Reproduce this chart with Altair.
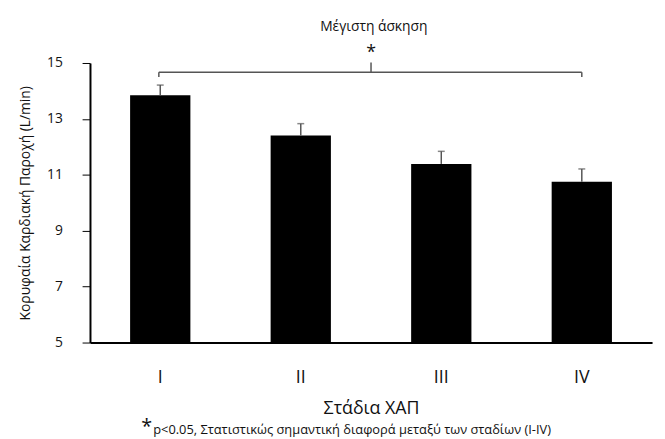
import altair as alt
import pandas as pd

# ---- data ----
stages = ["I", "II", "III", "IV"]
means = [13.85, 12.41, 11.39, 10.75]
upper = [14.21, 12.83, 11.84, 11.21]
base_value = 5

y_ticks = [5, 7, 9, 11, 13, 15]

# significance bracket (x in stage-position units 0..4, y in L/min)
bracket_x = [0.49, 3.5]
bracket_mid_x = 2.0
bracket_y = 14.67
bracket_drop_y = 14.5
bracket_top_y = 15.02
star_y = 15.35

title_text = "Μέγιστη άσκηση"
title_pos = [2.02, 16.3]
footnote_text = "p<0.05, Στατιστικώς σημαντική διαφορά μεταξύ των σταδίων (I-IV)"
footnote_pos = [0.45, 1.87]
footnote_star_pos = [0.365, 1.98]

FONT = "Open Sans"
W, H = 569, 283

df = pd.DataFrame({"stage": stages, "mean": means, "upper": upper,
                   "base": [base_value] * len(stages)})

yscale = alt.Scale(domain=[5, 15], zero=False, nice=False)
xscale_q = alt.Scale(domain=[0, 4], nice=False, zero=False)

y_axis = alt.Axis(title="Κορυφαία Καρδιακή Παροχή (L/min)",
                  values=y_ticks, grid=False, tickSize=8,
                  tickColor="black", domainColor="black", domainWidth=2,
                  labelFontSize=14, labelPadding=20, titleFontSize=14,
                  titleFontWeight="normal", titlePadding=14,
                  labelColor="#111", titleColor="#111",
                  labelFont=FONT, titleFont=FONT)

x_band = alt.X("stage:N", sort=stages,
               scale=alt.Scale(paddingInner=0.571, paddingOuter=0.2855),
               axis=alt.Axis(title="Στάδια ΧΑΠ", labelAngle=0, ticks=False,
                             labelFontSize=18, labelPadding=26,
                             titleFontSize=18, titleFontWeight="normal",
                             titlePadding=14, domainColor="black",
                             domainWidth=2, labelColor="#111", titleColor="#111",
                             labelFont=FONT, titleFont=FONT))


def Yq(field):
    return alt.Y(field, scale=yscale, axis=y_axis)


def Xq(field):
    return alt.X(field, scale=xscale_q, axis=None)


base = alt.Chart(df)
bars = base.mark_bar(color="black").encode(x=x_band, y=Yq("mean:Q"), y2="base:Q")
err = base.mark_rule(color="#555", strokeWidth=1.5).encode(
    x=alt.X("stage:N", sort=stages), y=Yq("mean:Q"), y2="upper:Q")
caps = base.mark_tick(color="#555", size=7, thickness=1.5).encode(
    x=alt.X("stage:N", sort=stages), y=Yq("upper:Q"))

bar_group = alt.layer(bars, err, caps)

# annotation layer with a positional (quantitative) x scale
hline_df = pd.DataFrame({"x": [bracket_x[0]], "x2": [bracket_x[1]], "y": [bracket_y]})
drops_df = pd.DataFrame({"x": bracket_x + [bracket_mid_x],
                         "y": [bracket_drop_y, bracket_drop_y, bracket_y],
                         "y2": [bracket_y, bracket_y, bracket_top_y]})

bracket_color = "#555"
hline = alt.Chart(hline_df).mark_rule(color=bracket_color, strokeWidth=1.5).encode(
    x=Xq("x:Q"), x2="x2:Q", y=Yq("y:Q"))
drops = alt.Chart(drops_df).mark_rule(color=bracket_color, strokeWidth=1.5).encode(
    x=Xq("x:Q"), y=Yq("y:Q"), y2="y2:Q")

star_df = pd.DataFrame({"x": [bracket_mid_x], "y": [star_y], "t": ["*"]})
star_text = alt.Chart(star_df).mark_text(
    font=FONT, fontSize=18, color="#111", baseline="middle", align="center").encode(
    x=Xq("x:Q"), y=Yq("y:Q"), text="t:N")
ttl_df = pd.DataFrame({"x": [title_pos[0]], "y": [title_pos[1]], "t": [title_text]})
title_mark = alt.Chart(ttl_df).mark_text(
    font=FONT, fontSize=14, color="#111", baseline="middle", align="center").encode(
    x=Xq("x:Q"), y=Yq("y:Q"), text="t:N")

foot_df = pd.DataFrame({"x": [footnote_pos[0]], "y": [footnote_pos[1]], "t": [footnote_text]})
foot = alt.Chart(foot_df).mark_text(
    font=FONT, fontSize=13, color="#111", baseline="middle", align="left").encode(
    x=Xq("x:Q"), y=Yq("y:Q"), text="t:N")
fstar_df = pd.DataFrame({"x": [footnote_star_pos[0]], "y": [footnote_star_pos[1]], "t": ["*"]})
fstar = alt.Chart(fstar_df).mark_text(
    font=FONT, fontSize=20, color="#111", baseline="middle", align="left").encode(
    x=Xq("x:Q"), y=Yq("y:Q"), text="t:N")

annot_group = alt.layer(hline, drops, star_text, title_mark, foot, fstar)

chart = alt.layer(bar_group, annot_group).resolve_scale(x="independent").properties(
    width=W, height=H,
    background="white",
    autosize=alt.AutoSizeParams(type="none"),
    padding={"left": 83, "top": 53, "right": 5, "bottom": 97},
).configure_view(strokeWidth=0, stroke="transparent").configure_axis(
    labelFont=FONT, titleFont=FONT
).configure_text(font=FONT)

chart.save("out.html", embed_options={"renderer": "svg", "actions": False})
